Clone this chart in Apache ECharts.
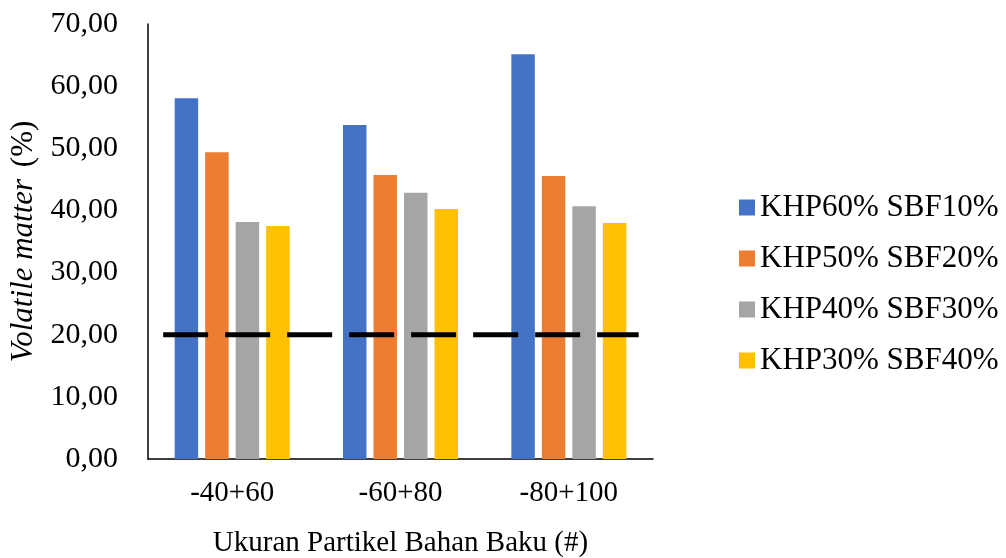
<!DOCTYPE html>
<html>
<head>
<meta charset="utf-8">
<script src="https://cdn.jsdelivr.net/npm/echarts@6/dist/echarts.min.js"></script>
<style>html,body{margin:0;padding:0;background:#fff}#c{width:1006px;height:558px}</style>
</head>
<body>
<div id="c"></div>
<script>
const categories = ['-40+60', '-60+80', '-80+100'];
const seriesNames = ['KHP60% SBF10%', 'KHP50% SBF20%', 'KHP40% SBF30%', 'KHP30% SBF40%'];
const khp60 = [58.05, 53.75, 65.12];
const khp50 = [49.35, 45.70, 45.54];
const khp40 = [38.14, 42.86, 40.66];
const khp30 = [37.50, 40.23, 37.98];
const refValue = 20;
const refSpan = [0.09, 2.915];
const yTicks = [0, 10, 20, 30, 40, 50, 60, 70];

const colors = ['#4472C4', '#ED7D31', '#A5A5A5', '#FFC000'];
const values = [khp60, khp50, khp40, khp30];
const FONT = "'Liberation Serif', 'Times New Roman', serif";

const chart = echarts.init(document.getElementById('c'), null, {renderer: 'canvas'});
const barSeries = seriesNames.map((n, i) => ({
  name: n, type: 'bar', data: values[i], xAxisIndex: 0, yAxisIndex: 0,
  itemStyle: {color: colors[i]},
  barGap: '30%', barCategoryGap: '31.7%',
  emphasis: {disabled: true}
}));
chart.setOption({
  animation: false,
  textStyle: {fontFamily: FONT},
  grid: {left: 148, right: 353, top: 24, bottom: 99, containLabel: false, outerBoundsMode: 'none'},
  legend: {
    orient: 'vertical', left: 734, top: 187,
    itemWidth: 16, itemHeight: 16, itemGap: 20,
    icon: 'rect',
    data: seriesNames,
    textStyle: {fontFamily: FONT, fontSize: 31, color: '#000', lineHeight: 31, padding: [0, 0, 0, 0]}
  },
  xAxis: [{
    type: 'category', data: categories,
    axisLine: {lineStyle: {color: '#000', width: 1.5}},
    axisTick: {show: false},
    axisLabel: {fontFamily: FONT, fontSize: 29, color: '#000', margin: 20},
    name: 'Ukuran Partikel Bahan Baku (#)', nameLocation: 'middle', nameGap: 70,
    nameTextStyle: {fontFamily: FONT, fontSize: 29, color: '#000'}
  }, {
    type: 'value', min: 0, max: 3, show: false
  }],
  yAxis: {
    type: 'value', min: yTicks[0], max: yTicks[yTicks.length - 1], interval: 10,
    axisLine: {show: true, lineStyle: {color: '#000', width: 1.5}},
    axisTick: {show: false},
    splitLine: {show: false},
    axisLabel: {fontFamily: FONT, fontSize: 30, color: '#000', margin: 30,
      formatter: v => v.toFixed(2).replace('.', ',')},
    name: '{i|Volatile matter}{n| (%)}', nameLocation: 'middle', nameGap: 108, nameRotate: 90,
    nameTextStyle: {rich: {
      i: {fontFamily: FONT, fontSize: 31, fontStyle: 'italic', color: '#000', padding: [0, 4, 0, 0]},
      n: {fontFamily: FONT, fontSize: 31, color: '#000'}
    }}
  },
  series: barSeries.concat([{
    name: 'ref', type: 'line', xAxisIndex: 1, yAxisIndex: 0,
    data: [[refSpan[0], refValue], [refSpan[1], refValue]],
    symbol: 'none', z: 5,
    lineStyle: {color: '#000', width: 5, type: [45, 17], cap: 'butt'},
    emphasis: {disabled: true}
  }])
});
</script>
</body>
</html>
